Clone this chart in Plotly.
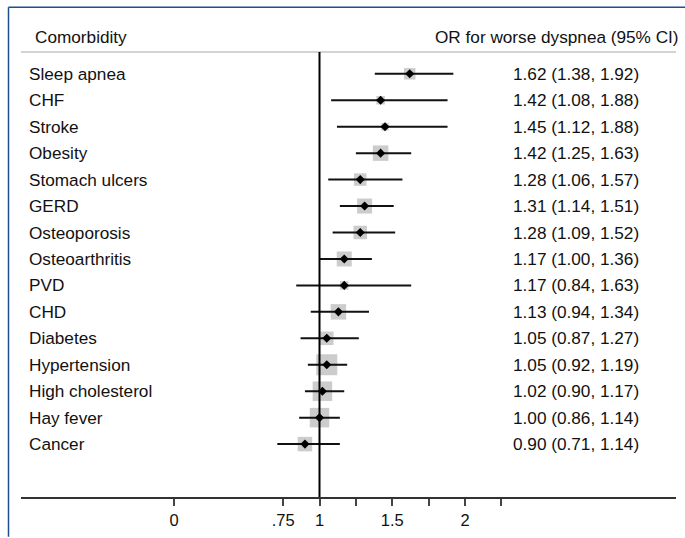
import plotly.graph_objects as go

# ---- data ----
conditions = ["Sleep apnea", "CHF", "Stroke", "Obesity", "Stomach ulcers", "GERD",
              "Osteoporosis", "Osteoarthritis", "PVD", "CHD", "Diabetes",
              "Hypertension", "High cholesterol", "Hay fever", "Cancer"]
odds_ratio = [1.62, 1.42, 1.45, 1.42, 1.28, 1.31, 1.28, 1.17, 1.17, 1.13, 1.05, 1.05, 1.02, 1.00, 0.90]
ci_low = [1.38, 1.08, 1.12, 1.25, 1.06, 1.14, 1.09, 1.00, 0.84, 0.94, 0.87, 0.92, 0.90, 0.86, 0.71]
ci_high = [1.92, 1.88, 1.88, 1.63, 1.57, 1.51, 1.52, 1.36, 1.63, 1.34, 1.27, 1.19, 1.17, 1.14, 1.14]
weights = [11.5, 8.5, 7.5, 15.5, 12.5, 15, 13.5, 15, 8.5, 15.5, 13.5, 21, 19.5, 19.5, 14.5]  # box size
tick_vals = [0, 0.75, 1, 1.25, 1.5, 1.75, 2, 2.25]
tick_text = ["0", ".75", "1", "", "1.5", "", "2", ""]

rows = [-i for i in range(len(conditions))]
FONT = "Liberation Sans, Arial, Helvetica, sans-serif"
TXT = 17.2

# layout geometry (pixels)
W, H = 685, 538
ML, MR, MT, MB = 21, 9, 52, 38
PW, PH = W - ML - MR, H - MT - MB


def px_x(p):
    return (p - ML) / PW


def px_y(p):
    return (H - MB - p) / PH


fig = go.Figure()

# weight boxes
fig.add_trace(go.Scatter(
    x=odds_ratio, y=rows, mode="markers",
    marker=dict(symbol="square", size=weights, color="#b6b6b6", line=dict(width=0)),
    hoverinfo="skip", showlegend=False))

# CI lines
cx, cy = [], []
for lo, hi, r in zip(ci_low, ci_high, rows):
    cx += [lo, hi, None]
    cy += [r, r, None]
fig.add_trace(go.Scatter(x=cx, y=cy, mode="lines",
                         line=dict(color="#111111", width=2),
                         hoverinfo="skip", showlegend=False))

# point estimates
fig.add_trace(go.Scatter(
    x=odds_ratio, y=rows, mode="markers",
    marker=dict(symbol="diamond", size=7, color="#000000"),
    showlegend=False))

annotations = []
for name, o, lo, hi, r in zip(conditions, odds_ratio, ci_low, ci_high, rows):
    annotations.append(dict(x=px_x(27), xref="paper", y=r, yref="y", text=name,
                            xanchor="left", yanchor="middle", showarrow=False,
                            font=dict(family=FONT, size=TXT, color="#111111")))
    annotations.append(dict(x=px_x(511), xref="paper", y=r, yref="y",
                            text=f"{o:.2f} ({lo:.2f}, {hi:.2f})",
                            xanchor="left", yanchor="middle", showarrow=False,
                            font=dict(family=FONT, size=TXT, color="#111111")))
annotations.append(dict(x=px_x(33), xref="paper", y=px_y(37), yref="paper",
                        text="Comorbidity", xanchor="left", yanchor="middle",
                        showarrow=False, font=dict(family=FONT, size=TXT, color="#111111")))
annotations.append(dict(x=px_x(681), xref="paper", y=px_y(37), yref="paper",
                        text="OR for worse dyspnea (95% CI)", xanchor="right", yanchor="middle",
                        showarrow=False, font=dict(family=FONT, size=TXT, color="#111111")))

shapes = [
    # header rule
    dict(type="line", xref="paper", yref="paper", x0=0, x1=1, y0=1, y1=1,
         line=dict(color="#c4c4c4", width=1.5)),
    # reference line at OR = 1
    dict(type="line", xref="x", yref="paper", x0=1, x1=1, y0=0, y1=1,
         line=dict(color="#000000", width=2)),
    # outer frame (left and top)
    dict(type="line", xref="paper", yref="paper", x0=px_x(8.5), x1=px_x(8.5),
         y0=px_y(7), y1=px_y(540), line=dict(color="#1d4f91", width=1.5)),
    dict(type="line", xref="paper", yref="paper", x0=px_x(8.5), x1=px_x(690),
         y0=px_y(7), y1=px_y(7), line=dict(color="#1d4f91", width=1.5)),
]

x_lo = (ML - 174.0) / 145.5
x_hi = (W - MR - 174.0) / 145.5
fig.update_layout(
    width=W, height=H,
    margin=dict(l=ML, r=MR, t=MT, b=MB, pad=0),
    paper_bgcolor="white", plot_bgcolor="white",
    xaxis=dict(range=[x_lo, x_hi], tickvals=tick_vals, ticktext=tick_text,
               showgrid=False, zeroline=False, showline=True, linecolor="#333333",
               linewidth=1.5, ticks="outside", ticklen=7, tickwidth=1.5,
               tickcolor="#444444", tickfont=dict(family=FONT, size=16.5, color="#111111"),
               fixedrange=True),
    yaxis=dict(range=[-16, 0.824], showgrid=False, zeroline=False, showline=False,
               showticklabels=False, ticks="", fixedrange=True),
    annotations=annotations, shapes=shapes,
    font=dict(family=FONT),
)

fig.write_html("out.html", config={"displayModeBar": False})

# remove the default page margin so the figure sits at the window origin
with open("out.html", "r", encoding="utf-8") as f:
    html = f.read()
html = html.replace("<head>", "<head><style>html,body{margin:0;padding:0;overflow:hidden;}</style>", 1)
with open("out.html", "w", encoding="utf-8") as f:
    f.write(html)
